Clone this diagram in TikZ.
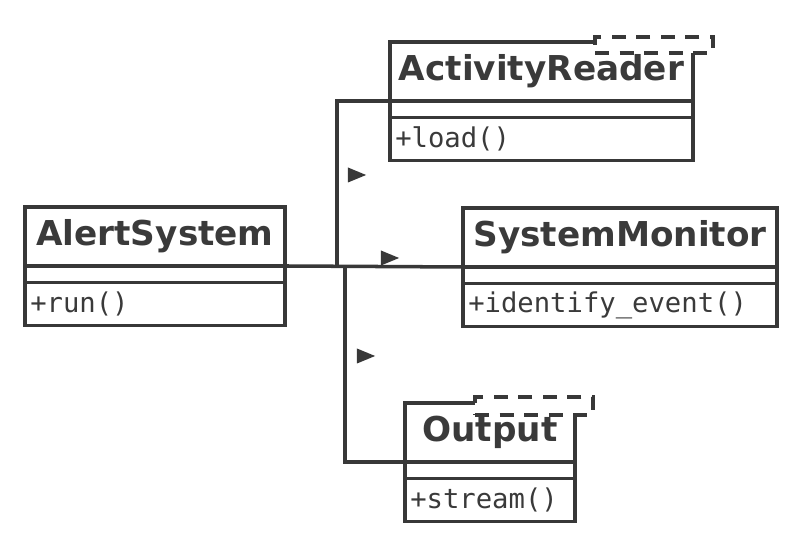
\documentclass[tikz,border=0pt]{standalone}
\usepackage{fontspec}
\setmainfont{DejaVu Sans}
\setmonofont{DejaVu Sans Mono}
\usetikzlibrary{positioning, shapes.geometric}

\definecolor{linegray}{HTML}{383838}
\definecolor{textgray}{HTML}{3A3A3A}

\tikzset{
    umlname/.style={draw=linegray, line width=2pt, outer sep=0pt, inner sep=0pt,
        minimum height=1.18cm, text=textgray, font=\fontsize{19.5}{21}\selectfont\bfseries},
    umlattr/.style={draw=linegray, line width=2pt, outer sep=0pt, inner sep=0pt,
        minimum height=0.33cm},
    umlops/.style={draw=linegray, line width=2pt, outer sep=0pt, inner xsep=3pt, inner ysep=0pt,
        minimum height=0.86cm, align=left, text=textgray, font=\fontsize{15.5}{17}\selectfont\ttfamily},
    tmpl/.style={draw=linegray, line width=2pt, dash pattern=on 8pt off 6pt, fill=white,
        outer sep=0pt, inner sep=0pt, minimum width=2.36cm},
    link/.style={draw=linegray, line width=2pt},
    navtri/.style={isosceles triangle, fill=linegray, inner sep=0pt,
        minimum height=0.3cm, minimum width=0.3cm}
}

\begin{document}
\begin{tikzpicture}[x=0.02cm, y=-0.02cm]
        \useasboundingbox (0, 0) rectangle (800, 546);

        % AlertSystem
        \node [umlname, minimum width=5.2cm, anchor=north west] (as-name) at (25, 207) {AlertSystem};
        \node [umlattr, minimum width=5.2cm, below=0pt of as-name] (as-attr) {};
        \node [umlops, text width=4.99cm, below=0pt of as-attr] (as-ops) {+run()};

        % SystemMonitor
        \node [umlname, minimum width=6.28cm, anchor=north west] (sm-name) at (463, 208) {SystemMonitor};
        \node [umlattr, minimum width=6.28cm, below=0pt of sm-name] (sm-attr) {};
        \node [umlops, text width=6.07cm, below=0pt of sm-attr] (sm-ops) {+identify\_event()};

        % ActivityReader
        \node [umlname, minimum width=6.06cm, anchor=north west] (ar-name) at (390, 42) {ActivityReader};
        \node [umlattr, minimum width=6.06cm, below=0pt of ar-name] (ar-attr) {};
        \node [umlops, text width=5.85cm, below=0pt of ar-attr] (ar-ops) {+load()};
        \node [tmpl, minimum height=0.32cm, anchor=north east] (ar-tmpl) at (713, 37) {};

        % Output
        \node [umlname, minimum width=3.4cm, anchor=north west] (out-name) at (405, 403) {Output};
        \node [umlattr, minimum width=3.4cm, below=0pt of out-name] (out-attr) {};
        \node [umlops, text width=3.19cm, below=0pt of out-attr] (out-ops) {+stream()};
        \node [tmpl, minimum height=0.36cm, anchor=north east] (out-tmpl) at (593, 397) {};

        % associations
        \coordinate (jr) at (337, 267);
        \coordinate (jo) at (345, 267);
        \draw [link] (as-name.south east) -- (sm-name.south west);
        \draw [link] (jr) |- (ar-name.south west);
        \draw [link] (jo) |- (out-name.south west);

        \node [navtri] (nav-ar) at (353, 175) {};
        \node [navtri] (nav-sm) at (386, 258) {};
        \node [navtri] (nav-out) at (362, 356) {};
    \end{tikzpicture}
\end{document}
